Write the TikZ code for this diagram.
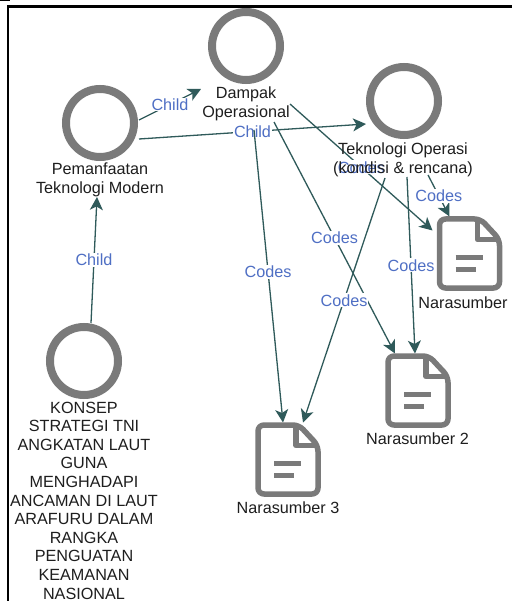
\documentclass[tikz,border=0pt]{standalone}
\usepackage{fontspec}
\setmainfont{Liberation Sans}
\usetikzlibrary{arrows.meta}
\definecolor{ringgray}{HTML}{7A7A7A}
\definecolor{edgeteal}{HTML}{2F5A5A}
\definecolor{edgeblue}{HTML}{4F6FC4}
\definecolor{labelink}{HTML}{1E1E1E}
\tikzset{
  ring/.style={circle,draw=ringgray,line width=8pt,fill=white,minimum size=68pt,inner sep=0pt},
  docbox/.style={rectangle,minimum width=66pt,minimum height=75pt,inner sep=0pt},
  vlabel/.style={align=center,text=labelink,font=\fontsize{16.2}{19}\selectfont,inner sep=0pt},
  conn/.style={draw=edgeteal,line width=1.3pt,-{Stealth[length=13pt,width=13pt,inset=3.5pt]}},
  elabel/.style={fill=white,text=edgeblue,font=\fontsize{16.2}{18}\selectfont,inner sep=1pt,pos=0.5},
  docline/.style={draw=ringgray,line width=5.5pt,line join=round}
}
\begin{document}
\begin{tikzpicture}[x=1pt,y=-1pt]
\useasboundingbox (0,0) rectangle (512,601);
\fill[white] (0,0) rectangle (512,601);
% frame
\draw[black,line width=2.4pt] (8,601) -- (8,6.5) -- (512,6.5);
\fill[black] (0,0) rectangle (10,1.2);
% vertices
\node[ring] (pem) at (100,123) {};
\node[ring] (dam) at (246,46) {};
\node[ring] (tek) at (404,101) {};
\node[ring] (kon) at (84,361) {};
\node[docbox] (nar1) at (469.5,253.5) {};
\node[docbox] (nar2) at (418,390.5) {};
\node[docbox] (nar3) at (288,459.5) {};
% connectors
\draw[conn] ([shift={(7,-38)}]kon.center) -- node[elabel]{Child} ([shift={(-3,74)}]pem.center);
\draw[conn] ([shift={(39,-3)}]pem.center) -- node[elabel]{Child} ([shift={(-45,43)}]dam.center);
\draw[conn] ([shift={(39,16)}]pem.center) -- node[elabel]{Child} ([shift={(-38,23)}]tek.center);
\draw[conn] ([shift={(44,58)}]dam.center) -- node[elabel,pos=.5]{Codes} ([shift={(-37,-23)}]nar1.center);
\draw[conn] ([shift={(28,76)}]dam.center) -- node[elabel]{Codes} ([shift={(-23,-37)}]nar2.center);
\draw[conn] ([shift={(8,84)}]dam.center) -- node[elabel,pos=.485]{Codes} ([shift={(-5,-37)}]nar3.center);
\draw[conn] ([shift={(24,74)}]tek.center) -- node[elabel]{Codes} ([shift={(-20,-37)}]nar1.center);
\draw[conn] ([shift={(3,76)}]tek.center) -- node[elabel]{Codes} ([shift={(-3,-37)}]nar2.center);
\draw[conn] ([shift={(-19,77)}]tek.center) -- node[elabel]{Codes} ([shift={(15,-37)}]nar3.center);
% document icons
\foreach \d in {nar1,nar2,nar3}{
  \begin{scope}[shift={(\d.center)}]
    \draw[docline,fill=white,rounded corners=6pt] (-30,-34.5) -- (11,-34.5) -- (30,-14) -- (30,34.5) -- (-30,34.5) -- cycle;
    \draw[docline] (8,-33) -- (8,-14) -- (29,-14);
    \draw[ringgray,line width=5.5pt] (-14,4) -- (13,4);
    \draw[ringgray,line width=5.5pt] (-14,16) -- (6,16);
  \end{scope}
}
% vertex labels
\node[vlabel] (lpem) at (100,180) {Pemanfaatan\\Teknologi Modern};
\node[vlabel] (ldam) at (246,104) {Dampak\\Operasional};
\node[vlabel] (ltek) at (403,159.5) {Teknologi Operasi\\(kondisi \& rencana)};
\node[vlabel,font=\fontsize{16.2}{18.6}\selectfont] (lkon) at (84,500.5) {KONSEP\\STRATEGI TNI\\ANGKATAN LAUT\\GUNA\\MENGHADAPI\\ANCAMAN DI LAUT\\ARAFURU DALAM\\RANGKA\\PENGUATAN\\KEAMANAN\\NASIONAL};
\node[vlabel] (lnar1) at (463,302.5) {Narasumber};
\node[vlabel] (lnar2) at (417.5,438.5) {Narasumber 2};
\node[vlabel] (lnar3) at (288,507.5) {Narasumber 3};
\end{tikzpicture}
\end{document}
